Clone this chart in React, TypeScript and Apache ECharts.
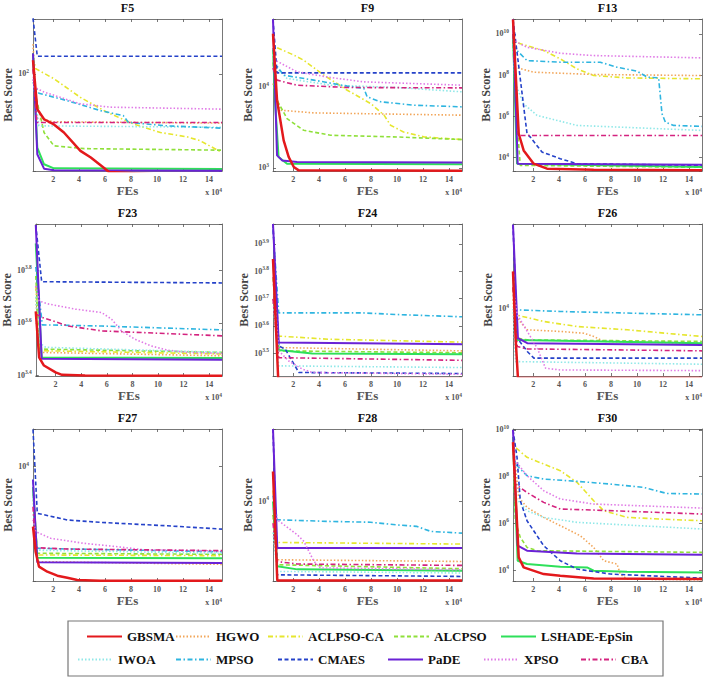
import * as echarts from "echarts";
import { useEffect, useRef } from "react";

type Curve = [number, number][];
type Panel = Record<string, Curve>;

// x in units of 10^4 FEs, y = best score
const ALGOS = ["GBSMA", "HGWO", "ACLPSO-CA", "ALCPSO", "LSHADE-EpSin", "IWOA", "MPSO", "CMAES", "PaDE", "XPSO", "CBA"];
const X_TICKS = [2, 4, 6, 8, 10, 12, 14];
const X_MIN = 0.45;
const X_MAX = 15;

const F5: Panel = {
	GBSMA: [[0.45, 131], [0.78, 50], [1.3, 41], [2.06, 37], [2.83, 31.6], [4.1, 22], [4.9, 19.3], [5.9, 15.8], [6.3, 14.5], [15, 13]],
	HGWO: [[0.45, 180], [0.75, 42], [2, 39], [15, 38]],
	"ACLPSO-CA": [[0.45, 140], [0.65, 111], [2.06, 91], [4.1, 63], [6.16, 47], [8.2, 37.3], [10.26, 31.6], [12.3, 29], [13.3, 26.9], [15, 21.3]],
	ALCPSO: [[0.45, 150], [0.6, 70], [1.3, 31.6], [2.06, 24.3], [4.4, 23], [15, 22.3]],
	"LSHADE-EpSin": [[0.45, 150], [0.78, 23.5], [1.3, 16.9], [2.06, 15.6], [15, 15.4]],
	IWOA: [[0.45, 90], [0.9, 36], [15, 35]],
	MPSO: [[0.45, 85], [0.9, 68.5], [3.1, 59], [5.65, 48.6], [7.4, 44], [7.8, 38.5], [10.8, 36], [15, 34.4]],
	CMAES: [[0.45, 300], [0.78, 141.6], [15, 141.6]],
	PaDE: [[0.45, 150], [0.78, 20.6], [1.3, 15.5], [2.06, 15], [15, 14.9]],
	XPSO: [[0.45, 90], [0.55, 77], [1.3, 70], [4.1, 55.5], [6.4, 52], [15, 50]],
	CBA: [[0.45, 110], [0.75, 38.5], [15, 38.5]],
};

const F9: Panel = {
	GBSMA: [[0.45, 45000], [0.76, 6840], [1.27, 2190], [1.66, 1365], [2.05, 1028], [2.43, 935], [15, 925]],
	HGWO: [[0.45, 11000], [1.02, 5150], [3.6, 4770], [15, 4470]],
	"ACLPSO-CA": [[0.45, 40000], [0.6, 31100], [2.05, 24600], [2.8, 21300], [4.4, 13800], [6.17, 9070], [7.97, 6220], [9.0, 4470], [9.5, 3360], [10.5, 2780], [12.1, 2410], [15, 2240]],
	ALCPSO: [[0.45, 20000], [0.76, 6840], [1.53, 4060], [2.8, 2920], [4.88, 2530], [10, 2410], [15, 2240]],
	"LSHADE-EpSin": [[0.45, 30000], [0.6, 6840], [0.88, 1365], [1.53, 1130], [15, 1110]],
	IWOA: [[0.45, 25000], [0.6, 17660], [1.53, 12670], [4.9, 10470], [10, 9800], [15, 8670]],
	MPSO: [[0.45, 30000], [0.6, 19400], [1.27, 13900], [3.6, 12080], [6.17, 10190], [7.45, 9530], [7.7, 7520], [8.74, 6530], [11.3, 5930], [15, 5660]],
	CMAES: [[0.45, 68000], [0.76, 14860], [15, 14860]],
	PaDE: [[0.45, 68000], [0.76, 1430], [1.15, 1240], [2.3, 1185], [15, 1165]],
	XPSO: [[0.45, 30000], [0.6, 21300], [2.3, 15300], [4.9, 13000], [7.45, 11500], [15, 10470]],
	CBA: [[0.45, 17000], [0.76, 12080], [2.3, 10470], [6.17, 9800], [15, 9700]],
};

const F13: Panel = {
	GBSMA: [[0.45, 5e10], [0.89, 1.45e5], [1.27, 2.26e4], [2.04, 5130], [3.07, 2940], [6.66, 2630], [15, 2440]],
	HGWO: [[0.45, 4e9], [0.6, 2.44e8], [2.04, 1.4e8], [6.66, 1.08e8], [15, 9.6e7]],
	"ACLPSO-CA": [[0.45, 1e10], [0.63, 3.95e9], [2.81, 1.56e9], [4.09, 6.17e8], [5.38, 2.03e8], [6.66, 9.6e7], [9.23, 7.4e7], [15, 6.65e7]],
	ALCPSO: [[0.45, 5e9], [0.63, 5.9e6], [1.01, 4260], [15, 3400]],
	"LSHADE-EpSin": [[0.45, 1e10], [0.76, 5130], [15, 3530]],
	IWOA: [[0.45, 2e9], [0.63, 3.8e7], [1.27, 4.1e6], [2.3, 1.12e6], [5.38, 3.67e5], [15, 2.1e5]],
	MPSO: [[0.45, 3e9], [0.76, 1.56e9], [1.53, 5.1e8], [4.09, 4.26e8], [7.17, 4.26e8], [8.46, 2.44e8], [10.0, 1.56e8], [10.8, 8e7], [11.66, 7.4e7], [11.92, 1.35e6], [12.18, 5.3e5], [12.82, 3.67e5], [15, 3.3e5]],
	CMAES: [[0.45, 5e10], [1.53, 1.45e5], [1.78, 1e5], [2.68, 1.88e4], [4.09, 8950], [5.38, 5130], [15, 4260]],
	PaDE: [[0.45, 5e10], [0.81, 5130], [15, 4580]],
	XPSO: [[0.45, 6e9], [0.76, 3.95e9], [1.53, 2.26e9], [4.09, 1.16e9], [6.66, 8.95e8], [15, 6.9e8]],
	CBA: [[0.45, 1e10], [0.89, 1.2e5], [15, 1.2e5]],
};

const F23: Panel = {
	GBSMA: [[0.45, 4400], [0.71, 2940], [1.09, 2735], [2.0, 2576], [2.5, 2520], [4.3, 2506], [15, 2500]],
	HGWO: [[0.45, 5000], [0.71, 3070], [15, 2980]],
	"ACLPSO-CA": [[0.45, 5500], [0.76, 3116], [15, 3027]],
	ALCPSO: [[0.45, 6000], [0.71, 3162], [15, 3069]],
	"LSHADE-EpSin": [[0.45, 8000], [0.91, 2938], [15, 2925]],
	IWOA: [[0.45, 5000], [0.71, 3350], [1.22, 3210], [15, 3070]],
	MPSO: [[0.45, 6500], [0.96, 3910], [5.6, 3870], [15, 3740]],
	CMAES: [[0.45, 9400], [0.91, 5710], [5.6, 5690], [15, 5650]],
	PaDE: [[0.45, 9400], [0.91, 2900], [15, 2880]],
	XPSO: [[0.45, 5500], [0.71, 4820], [1.48, 4690], [3.54, 4490], [5.6, 4355], [6.37, 4110], [7.15, 3707], [8.18, 3450], [9.46, 3250], [10.75, 3130], [12.3, 3070], [15, 3040]],
	CBA: [[0.45, 4300], [0.96, 4170], [3.0, 3870], [5.6, 3707], [15, 3550]],
};

const F24: Panel = {
	GBSMA: [[0.45, 7000], [0.85, 2550], [15, 2550]],
	HGWO: [[0.45, 5000], [0.89, 3319], [15, 3228]],
	"ACLPSO-CA": [[0.45, 6000], [0.89, 3656], [4.76, 3560], [15, 3475]],
	ALCPSO: [[0.45, 6000], [0.89, 3228], [15, 3177]],
	"LSHADE-EpSin": [[0.45, 7000], [0.89, 3250], [3.47, 3155], [15, 3135]],
	IWOA: [[0.45, 5000], [0.89, 2845], [15, 2805]],
	MPSO: [[0.45, 9000], [0.89, 4446], [7.34, 4445], [9.92, 4385], [15, 4300]],
	CMAES: [[0.45, 9400], [0.89, 3365], [1.4, 3270], [1.92, 2965], [2.44, 2690], [15, 2667]],
	PaDE: [[0.45, 9400], [0.89, 3460], [15, 3410]],
	XPSO: [[0.45, 6000], [0.89, 3230], [1.66, 2965], [2.7, 2770], [3.47, 2690], [15, 2650]],
	CBA: [[0.45, 5000], [0.89, 3048], [15, 2980]],
};

const F26: Panel = {
	GBSMA: [[0.45, 20300], [0.65, 5740], [0.83, 2700], [15, 2700]],
	HGWO: [[0.45, 12000], [0.53, 8930], [1.55, 6730], [4.1, 6520], [5.9, 6310], [6.67, 5930], [7.44, 5400], [15, 5230]],
	"ACLPSO-CA": [[0.45, 15000], [0.65, 8930], [2.83, 7870], [5.39, 7160], [9.24, 6730], [15, 5930]],
	ALCPSO: [[0.45, 15000], [0.78, 5740], [1.55, 5560], [15, 5400]],
	"LSHADE-EpSin": [[0.45, 20000], [0.78, 5560], [15, 5230]],
	IWOA: [[0.45, 10000], [0.65, 3690], [15, 3510]],
	MPSO: [[0.45, 20000], [0.65, 9820], [4.1, 9510], [15, 8930]],
	CMAES: [[0.45, 49000], [0.78, 5740], [1.55, 4470], [2.06, 3940], [15, 3940]],
	PaDE: [[0.45, 49000], [0.83, 5740], [1.55, 5230], [15, 5060]],
	XPSO: [[0.45, 15000], [0.78, 8930], [1.55, 6520], [2.32, 4750], [2.96, 3254], [4.1, 3150], [15, 3110]],
	CBA: [[0.45, 15000], [0.78, 4900], [1.55, 4690], [15, 4520]],
};

const F27: Panel = {
	GBSMA: [[0.45, 3550], [0.65, 2304], [0.91, 1780], [1.55, 1630], [2.32, 1522], [3.09, 1470], [3.86, 1413], [5.65, 1397], [15, 1392]],
	HGWO: [[0.45, 6000], [0.78, 1940], [15, 1850]],
	"ACLPSO-CA": [[0.45, 7000], [0.78, 2175], [15, 2150]],
	ALCPSO: [[0.45, 7000], [0.78, 2240], [15, 2200]],
	"LSHADE-EpSin": [[0.45, 7000], [0.78, 2078], [15, 2054]],
	IWOA: [[0.45, 6000], [0.78, 2360], [15, 2240]],
	MPSO: [[0.45, 8000], [0.65, 2441], [15, 2300]],
	CMAES: [[0.45, 19000], [0.78, 4470], [3.1, 3980], [5.65, 3820], [10.8, 3600], [15, 3400]],
	PaDE: [[0.45, 8000], [0.78, 1918], [15, 1895]],
	XPSO: [[0.45, 4000], [0.65, 3260], [1.81, 2900], [4.37, 2660], [6.93, 2510], [9, 2380], [15, 2330]],
	CBA: [[0.45, 5000], [0.65, 2470], [3.1, 2410], [15, 2344]],
};

const F28: Panel = {
	GBSMA: [[0.45, 16400], [0.78, 2720], [15, 2720]],
	HGWO: [[0.45, 8000], [0.78, 3830], [15, 3724]],
	"ACLPSO-CA": [[0.45, 12000], [0.78, 5093], [15, 4960]],
	ALCPSO: [[0.45, 8000], [0.78, 3528], [15, 3304]],
	"LSHADE-EpSin": [[0.45, 10000], [0.78, 3440], [2.32, 3270], [15, 3200]],
	IWOA: [[0.45, 6000], [0.78, 3162], [15, 3080]],
	MPSO: [[0.45, 11000], [0.78, 7396], [4.88, 7200], [7.95, 7110], [10.0, 6800], [11.5, 6640], [12.6, 6110], [15, 5940]],
	CMAES: [[0.45, 33000], [0.78, 2990], [15, 2910]],
	PaDE: [[0.45, 33000], [0.78, 4645], [15, 4645]],
	XPSO: [[0.45, 9000], [0.78, 7400], [2.32, 5780], [2.83, 5180], [3.6, 3730], [4.1, 3350], [15, 3250]],
	CBA: [[0.45, 7000], [0.78, 3720], [2.32, 3570], [15, 3490]],
};

const F30: Panel = {
	GBSMA: [[0.45, 3e9], [0.89, 3.47e4], [1.27, 1.29e4], [2.81, 6700], [4.09, 5680], [6.66, 4370], [15, 4080]],
	HGWO: [[0.45, 3e9], [0.89, 1.29e7], [1.53, 4.82e6], [2.81, 1.8e6], [3.58, 1.1e6], [4.61, 5.7e5], [5.63, 2.94e5], [6.66, 9.3e4], [7.43, 2.5e4], [8.46, 1.8e4], [8.71, 6700], [9.23, 4080], [15, 3800]],
	"ACLPSO-CA": [[0.45, 5e9], [0.63, 1.8e9], [1.53, 6.7e8], [2.81, 3.47e8], [4.09, 1.8e8], [5.38, 5.7e7], [6.66, 9.3e6], [7.43, 3.47e6], [9.23, 1.8e6], [11.8, 1.52e6], [15, 1.29e6]],
	ALCPSO: [[0.45, 5e9], [0.63, 1.29e6], [1.01, 2.5e5], [1.53, 9.3e4], [2.3, 6.7e4], [15, 5.7e4]],
	"LSHADE-EpSin": [[0.45, 5e9], [0.63, 6.7e6], [0.81, 2.5e4], [1.53, 1.8e4], [4.09, 1.38e4], [6.15, 1.29e4], [6.66, 9300], [9.23, 8430], [15, 7900]],
	IWOA: [[0.45, 1e9], [0.63, 1.29e7], [1.53, 3.47e6], [2.81, 1.8e6], [5.38, 1.1e6], [15, 5.7e5]],
	MPSO: [[0.45, 3e9], [0.63, 3.47e8], [1.53, 1.1e8], [2.81, 7.9e7], [5.38, 6.3e7], [7.94, 4.8e7], [10.5, 3.47e7], [12.3, 1.9e7], [15, 1.8e7]],
	CMAES: [[0.45, 1e10], [0.76, 6.7e8], [1.01, 9.3e6], [1.53, 1.29e6], [2.81, 1.1e5], [4.09, 2.5e4], [5.38, 1.1e4], [7.94, 6700], [15, 4500]],
	PaDE: [[0.45, 1e10], [0.81, 1.1e5], [1.53, 6.7e4], [5.38, 5.1e4], [15, 4.5e4]],
	XPSO: [[0.45, 3e9], [0.63, 4.8e8], [1.53, 1.1e8], [2.81, 2.5e7], [4.09, 1.1e7], [6.66, 6.7e6], [15, 4.5e6]],
	CBA: [[0.45, 2e9], [0.63, 4.8e7], [1.53, 2.1e7], [2.81, 7.9e6], [4.09, 4.1e6], [6.66, 3.7e6], [15, 2.5e6]],
};

const PANEL_NAMES = ["F5", "F9", "F13", "F23", "F24", "F26", "F27", "F28", "F30"];
const PANEL_DATA = [F5, F9, F13, F23, F24, F26, F27, F28, F30];
// [min, max] of each log axis and the step of its labelled powers
const Y_MIN = [14.8, 918, 2265, 2495, 2612, 2810, 1388, 2700, 3380];
const Y_MAX = [295, 68400, 5.3e10, 9480, 9397, 49700, 19160, 33000, 1.1e10];
const Y_STEP = [1, 1, 2, 0.2, 0.1, 1, 1, 1, 2];

// layout and styles
const FONT = "'Liberation Serif', 'Times New Roman', serif";
const COL_LEFT = [33, 273, 513];
const ROW_TOP = [19, 224, 429];
const GRID_W = 189;
const GRID_H = 152;
const AXIS_COLOR = "#555";

const STYLES: Record<string, { color: string; width: number; type: any }> = {
	GBSMA: { color: "#e3191c", width: 2.5, type: "solid" },
	HGWO: { color: "#f2a65a", width: 1.6, type: [1.5, 2] },
	"ACLPSO-CA": { color: "#e6e62e", width: 1.6, type: [5, 2.5, 1.5, 2.5] },
	ALCPSO: { color: "#8fe03a", width: 1.6, type: [4, 2.5] },
	"LSHADE-EpSin": { color: "#2ee05a", width: 2, type: "solid" },
	IWOA: { color: "#8fe8e8", width: 1.6, type: [1.5, 2] },
	MPSO: { color: "#2fb5e0", width: 1.6, type: [5, 2.5, 1.5, 2.5] },
	CMAES: { color: "#2542c9", width: 1.6, type: [4, 2.5] },
	PaDE: { color: "#6a22d6", width: 2, type: "solid" },
	XPSO: { color: "#e07ae6", width: 1.6, type: [1.5, 2] },
	CBA: { color: "#d4237f", width: 1.6, type: [5, 2.5, 1.5, 2.5] },
};

// legend item left positions (icon start) and row tops
const LEGEND_POS: Record<string, [number, number]> = {
	GBSMA: [86, 630],
	HGWO: [175, 630],
	"ACLPSO-CA": [267, 630],
	ALCPSO: [393, 630],
	"LSHADE-EpSin": [500, 630],
	IWOA: [77, 653],
	MPSO: [175, 653],
	CMAES: [277, 653],
	PaDE: [387, 653],
	XPSO: [483, 653],
	CBA: [580, 653],
};

const powLabel = (step: number) => (v: number) => {
	const e = Math.log10(v);
	const r = Math.round(e / step) * step;
	if (Math.abs(e - r) > 1e-4) return "";
	const txt = Number(r.toFixed(1)).toString();
	return `{b|10}{s|${txt}}`;
};

function buildOption() {
	const grid: any[] = [];
	const xAxis: any[] = [];
	const yAxis: any[] = [];
	const series: any[] = [];
	const graphic: any[] = [];

	const labelText = { fontSize: 8, fontWeight: "bold", fontFamily: FONT, color: AXIS_COLOR };
	const line = { lineStyle: { color: AXIS_COLOR, width: 0.8 } };

	PANEL_NAMES.forEach((title, i) => {
		const left = COL_LEFT[i % 3];
		const top = ROW_TOP[Math.floor(i / 3)];
		grid.push({ left, top, width: GRID_W, height: GRID_H, containLabel: false });

		const xBase = { type: "value", gridIndex: i, min: X_MIN, max: X_MAX, splitLine: { show: false } };
		xAxis.push({
			...xBase,
			position: "bottom",
			axisLine: { show: true, onZero: false, ...line },
			axisTick: { show: true, inside: true, length: 3, customValues: X_TICKS, ...line },
			axisLabel: { ...labelText, margin: 4, customValues: X_TICKS },
			name: "FEs",
			nameLocation: "middle",
			nameGap: 12,
			nameTextStyle: { fontSize: 13, fontWeight: "bold", fontFamily: FONT, color: AXIS_COLOR },
		});
		xAxis.push({
			...xBase,
			position: "top",
			axisLine: { show: true, onZero: false, ...line },
			axisTick: { show: true, inside: true, length: 3, customValues: X_TICKS, ...line },
			axisLabel: { show: false },
		});

		const yBase = {
			type: "log",
			gridIndex: i,
			logBase: Math.pow(10, Y_STEP[i]),
			min: Y_MIN[i],
			max: Y_MAX[i],
			splitLine: { show: false },
		};
		yAxis.push({
			...yBase,
			position: "left",
			axisLine: { show: true, onZero: false, ...line },
			axisTick: { show: true, inside: true, length: 3, ...line },
			axisLabel: {
				margin: 4,
				formatter: powLabel(Y_STEP[i]),
				rich: {
					b: { ...labelText, lineHeight: 12 },
					s: { ...labelText, fontSize: 5.5, verticalAlign: "top" },
				},
			},
			name: "Best Score",
			nameLocation: "middle",
			nameGap: 17,
			nameTextStyle: { fontSize: 12, fontWeight: "bold", fontFamily: FONT, color: "#444" },
		});
		yAxis.push({
			...yBase,
			position: "right",
			axisLine: { show: true, onZero: false, ...line },
			axisTick: { show: true, inside: true, length: 3, ...line },
			axisLabel: { show: false },
		});

		const data = PANEL_DATA[i];
		ALGOS.forEach((name) => {
			const st = STYLES[name];
			series.push({
				type: "line",
				name,
				xAxisIndex: i * 2,
				yAxisIndex: i * 2,
				data: data[name],
				symbol: "none",
				clip: true,
				silent: true,
				z: name === "GBSMA" ? 4 : 3,
				itemStyle: { color: st.color },
				lineStyle: { color: st.color, width: st.width, type: st.type },
			});
		});

		graphic.push({
			type: "text",
			x: left + GRID_W / 2,
			y: top - 11,
			style: {
				text: title,
				fontSize: 12,
				fontWeight: "bold",
				fontFamily: FONT,
				fill: "#111",
				textAlign: "center",
				textVerticalAlign: "middle",
			},
		});
		graphic.push({
			type: "text",
			x: left + GRID_W,
			y: top + GRID_H + 21,
			style: {
				text: "{a|x 10}{b|4}",
				textAlign: "right",
				textVerticalAlign: "middle",
				rich: {
					a: { fontSize: 8, fontWeight: "bold", fontFamily: FONT, fill: AXIS_COLOR, lineHeight: 11 },
					b: { fontSize: 5.5, fontWeight: "bold", fontFamily: FONT, fill: AXIS_COLOR, verticalAlign: "top" },
				},
			},
		});
	});

	graphic.push({
		type: "rect",
		shape: { x: 68, y: 621, width: 595, height: 55 },
		style: { fill: "#fff", stroke: "#777", lineWidth: 1.2 },
		z: 0,
	});

	const legend = ALGOS.map((name) => ({
		data: [name],
		left: LEGEND_POS[name][0],
		top: LEGEND_POS[name][1],
		padding: 0,
		itemWidth: 35,
		itemHeight: 12,
		selectedMode: false,
		itemStyle: { opacity: 0 },
		lineStyle: { width: 2 },
		textStyle: { fontSize: 13, fontWeight: "bold", fontFamily: FONT, color: "#111" },
	}));

	return { animation: false, grid, xAxis, yAxis, series, legend, graphic };
}

export default function App() {
	const chartRef = useRef<HTMLDivElement>(null);

	useEffect(() => {
		document.body.style.margin = "0";
		if (!chartRef.current) return;
		const chart = echarts.init(chartRef.current, null, { renderer: "svg" });
		chart.setOption(buildOption());
		return () => chart.dispose();
	}, []);

	return <div ref={chartRef} style={{ width: 709, height: 678, background: "#fff" }} />;
}
